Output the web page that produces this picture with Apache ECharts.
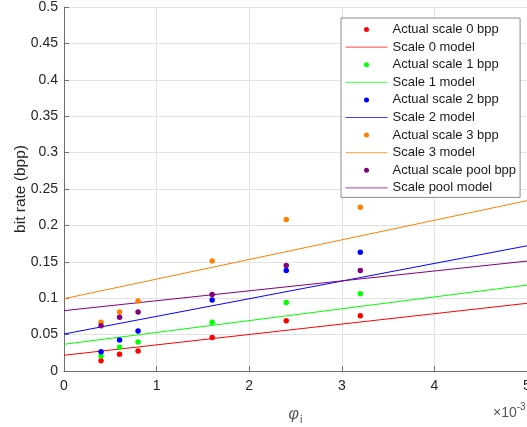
<!DOCTYPE html>
<html>
<head>
<meta charset="utf-8">
<script src="https://cdn.jsdelivr.net/npm/echarts@6/dist/echarts.min.js"></script>
<style>html,body{margin:0;padding:0;background:#fff;}#c{width:527px;height:427px;}</style>
</head>
<body>
<div id="c"></div>
<script>
// phi_i values (x 10^-3)
var phi = [0.4, 0.6, 0.8, 1.6, 2.4, 3.2];
var scale0 = [0.014, 0.023, 0.0275, 0.046, 0.069, 0.076];
var scale1 = [0.0205, 0.0325, 0.040, 0.067, 0.094, 0.106];
var scale2 = [0.0265, 0.0425, 0.055, 0.0975, 0.138, 0.163];
var scale3 = [0.067, 0.081, 0.096, 0.151, 0.208, 0.225];
var scalePool = [0.062, 0.074, 0.081, 0.105, 0.145, 0.138];
// model lines: value at phi = 0 and at phi = 5e-3
var modelX = [0, 5];
var model0 = [0.0216, 0.093];
var model1 = [0.0367, 0.118];
var model2 = [0.0508, 0.172];
var model3 = [0.0993, 0.234];
var modelPool = [0.0829, 0.151];
var xTicks = [0, 1, 2, 3, 4, 5];
var names = ['0', '1', '2', '3', 'pool'];
var colors = ['#ff0000', '#00ff00', '#0000ff', '#ff8000', '#800080'];
var legendLineColors = ['#ff4040', '#40ff40', '#4040ff', '#ffa040', '#a040a0'];
var actual = [scale0, scale1, scale2, scale3, scalePool];
var models = [model0, model1, model2, model3, modelPool];

var FONT = '"Liberation Sans", Arial, Helvetica, sans-serif';
var TXT = '#262626';
var AX = '#6e6e6e';
var series = [];
var legendData = [];
for (var k = 0; k < 5; k++) {
  var sName = 'Actual scale ' + names[k] + ' bpp';
  var mName = 'Scale ' + names[k] + ' model';
  series.push({
    name: sName, type: 'scatter', symbol: 'circle', symbolSize: 5.5,
    itemStyle: {color: colors[k], opacity: 1},
    data: phi.map(function (x, i) { return [x, actual[k][i]]; }),
    z: 3
  });
  series.push({
    name: mName, type: 'line', symbol: 'none', showSymbol: false,
    lineStyle: {color: colors[k], width: 1},
    itemStyle: {color: colors[k]},
    data: modelX.map(function (x, i) { return [x, models[k][i]]; }),
    z: 2
  });
  legendData.push({name: sName, icon: 'circle'});
  legendData.push({name: mName, itemStyle: {opacity: 0}, lineStyle: {width: 1, color: legendLineColors[k]}});
}

var chart = echarts.init(document.getElementById('c'), null, {renderer: 'canvas'});
chart.setOption({
  animation: false,
  backgroundColor: '#fff',
  grid: {left: 64, right: 0, top: 7, bottom: 56, outerBoundsMode: 'none', containLabel: false},
  xAxis: {
    type: 'value', min: 0, max: 5, interval: 1,
    axisLine: {show: true, onZero: false, lineStyle: {color: AX, width: 1}},
    axisTick: {show: true, inside: true, length: 5, lineStyle: {color: AX}},
    axisLabel: {color: TXT, fontSize: 14, fontFamily: FONT, margin: 8, showMaxLabel: true},
    splitLine: {show: true, lineStyle: {color: '#e3e3e3', width: 1}},
    name: '{p|φ}{s|i}', nameLocation: 'middle', nameGap: 33, nameMoveOverlap: false,
    nameTextStyle: {
      rich: {
        p: {fontSize: 16, fontStyle: 'italic', color: '#555', fontFamily: FONT},
        s: {fontSize: 11, color: '#555', fontFamily: FONT, padding: [10, 0, 0, 1]}
      }
    }
  },
  yAxis: {
    type: 'value', min: 0, max: 0.5, interval: 0.05,
    axisLine: {show: true, lineStyle: {color: AX, width: 1}},
    axisTick: {show: true, inside: true, length: 5, lineStyle: {color: AX}},
    axisLabel: {color: TXT, fontSize: 14, fontFamily: FONT, margin: 6},
    splitLine: {show: true, lineStyle: {color: '#e3e3e3', width: 1}},
    name: 'bit rate (bpp)', nameLocation: 'middle', nameGap: 35, nameMoveOverlap: false,
    nameTextStyle: {color: TXT, fontSize: 15.5, fontFamily: FONT}
  },
  legend: {
    data: legendData, orient: 'vertical', left: 341, top: 18,
    itemWidth: 42, itemHeight: 5, itemGap: 4.6,
    padding: [5, 4, 3, 4],
    backgroundColor: '#fff', borderColor: '#8c8c8c', borderWidth: 1,
    textStyle: {color: '#1a1a1a', fontSize: 13, fontFamily: FONT, lineHeight: 13},
    selectedMode: false
  },
  graphic: [{
    type: 'text', left: 493, top: 402,
    style: {
      text: '{a|×10}{b|-3}',
      rich: {
        a: {fontSize: 14, fill: '#555', fontFamily: FONT, padding: [7, 0, 0, 0]},
        b: {fontSize: 10, fill: '#555', fontFamily: FONT, padding: [0, 0, 6, 0]}
      }
    }
  }],
  series: series
});
</script>
</body>
</html>
